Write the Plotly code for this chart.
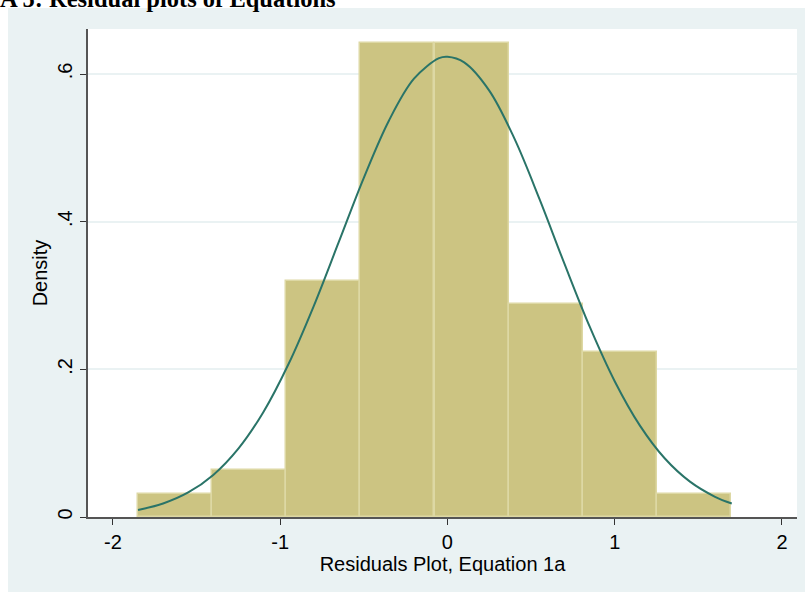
import plotly.graph_objects as go

# Histogram bins (residuals) and densities
bin_left = [-1.851, -1.408, -0.964, -0.521, -0.077, 0.366, 0.810, 1.253]
bin_width = 0.4434
densities = [0.0315, 0.0635, 0.320, 0.642, 0.642, 0.288, 0.224, 0.0315]

# Normal density overlay
curve_x = [-1.85, -1.7, -1.55, -1.4, -1.25, -1.1, -0.95, -0.8, -0.65, -0.5, -0.35, -0.2,
           -0.05, 0.0, 0.1, 0.25, 0.4, 0.55, 0.7, 0.85, 1.0, 1.15, 1.3, 1.45, 1.6, 1.70]
curve_y = [0.0096, 0.0183, 0.0332, 0.0570, 0.0926, 0.1423, 0.2072, 0.2854, 0.3722, 0.4594,
           0.5368, 0.5937, 0.6215, 0.6234, 0.6158, 0.5776, 0.5128, 0.4309, 0.3428, 0.2581,
           0.1839, 0.1241, 0.0792, 0.0479, 0.0274, 0.0183]

x_ticks = [-2, -1, 0, 1, 2]
x_tick_text = ["-2", "-1", "0", "1", "2"]
y_ticks = [0, 0.2, 0.4, 0.6]
y_tick_text = ["0", ".2", ".4", ".6"]

bar_centers = [b + bin_width / 2 for b in bin_left]

fig = go.Figure()
fig.add_trace(go.Bar(
    x=bar_centers, y=densities, width=[bin_width] * len(densities),
    marker=dict(color="#CCC482", line=dict(color="#DDD8A4", width=1.5)),
    hoverinfo="skip", showlegend=False,
))
fig.add_trace(go.Scatter(
    x=curve_x, y=curve_y, mode="lines",
    line=dict(color="#2A7468", width=2, shape="spline"),
    hoverinfo="skip", showlegend=False,
))

font_family = "Liberation Sans, Arial, sans-serif"

fig.update_layout(
    width=805, height=592,
    margin=dict(l=88, r=8, t=29, b=75),
    paper_bgcolor="#EAF2F3",
    plot_bgcolor="#FFFFFF",
    bargap=0,
    font=dict(family=font_family, size=20, color="#000000"),
    xaxis=dict(
        range=[-2.149, 2.090], tickvals=x_ticks, ticktext=x_tick_text,
        showgrid=False, zeroline=False,
        showline=True, linecolor="#555555", linewidth=1.5,
        ticks="outside", ticklen=6, tickcolor="#333333", tickwidth=1.2,
        tickfont=dict(size=20),
        title=dict(text="Residuals Plot, Equation 1a", font=dict(size=20), standoff=5),
    ),
    yaxis=dict(
        range=[0, 0.661], tickvals=y_ticks, ticktext=y_tick_text,
        showgrid=True, gridcolor="#EAF2F3", gridwidth=1.5, zeroline=False,
        showline=True, linecolor="#555555", linewidth=1.5,
        ticks="outside", ticklen=6, tickcolor="#333333", tickwidth=1.2,
        tickangle=-90, tickfont=dict(size=20),
        title=dict(text="Density", font=dict(size=20), standoff=1),
    ),
    shapes=[
        dict(type="rect", xref="paper", yref="paper", x0=-0.2, x1=1.2,
             y0=1.0 + 21 / 488, y1=1.2, fillcolor="#FFFFFF", line=dict(width=0), layer="above"),
        dict(type="rect", xref="paper", yref="paper", x0=-0.2, x1=-80 / 709,
             y0=-0.3, y1=1.2, fillcolor="#FFFFFF", line=dict(width=0), layer="above"),
    ],
    annotations=[
        dict(text="<b>A 5: Residual plots of Equations</b>", xref="paper", yref="paper",
             x=-88 / 709, y=1.0 + 29 / 488, xanchor="left", yanchor="middle", showarrow=False,
             font=dict(family="Liberation Serif, Times New Roman, serif", size=24.5, color="#000000"),
             yshift=2, xshift=-2),
    ],
)

fig.write_html("out.html")
